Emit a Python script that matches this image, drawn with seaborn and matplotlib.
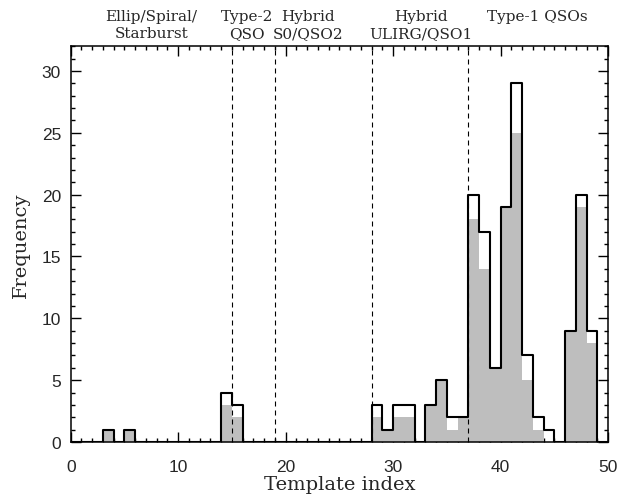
import numpy as np
import pandas as pd
import seaborn as sns
import matplotlib.pyplot as plt
from matplotlib.ticker import MultipleLocator

# template index of each non-empty bin
template = [3, 5, 14, 15, 28, 29, 30, 31, 33, 34, 35, 36, 37, 38, 39, 40, 41, 42, 43, 44, 46, 47, 48]
# all sources (black outline)
total = [1, 1, 4, 3, 3, 1, 3, 3, 3, 5, 2, 2, 20, 17, 6, 19, 29, 7, 2, 1, 9, 20, 9]
# subsample (grey fill)
subset = [1, 1, 3, 2, 2, 1, 2, 2, 3, 5, 1, 2, 18, 14, 6, 19, 25, 5, 1, 0, 9, 19, 8]

boundaries = [15, 19, 28, 37]
group_labels = ["Ellip/Spiral/\nStarburst", "Type-2\nQSO", "Hybrid\nS0/QSO2",
                "Hybrid\nULIRG/QSO1", "Type-1 QSOs\n"]
group_pos = [7.5, 16.4, 22.1, 32.6, 43.4]

df = pd.DataFrame({"template": template, "total": total, "subset": subset})

sns.set_theme(style="ticks")
plt.rcParams["font.family"] = ["Liberation Sans", "DejaVu Sans"]
plt.rcParams["xtick.direction"] = "in"
plt.rcParams["ytick.direction"] = "in"

fig = plt.figure(figsize=(6.43, 5.02), dpi=100)
ax = fig.add_axes([0.110, 0.1175, 0.8356, 0.7885])

sns.histplot(data=df, x="template", weights="subset", binwidth=1, binrange=(0, 50),
             element="bars", color="#bebebe", edgecolor="none", linewidth=0,
             alpha=1, ax=ax)
sns.histplot(data=df, x="template", weights="total", binwidth=1, binrange=(0, 50),
             element="step", fill=False, color="black", linewidth=1.5, ax=ax)

for b in boundaries:
    ax.axvline(b, color="black", lw=0.8, ls=(0, (4.5, 3.6)), zorder=5)

ax.set_xlim(0, 50)
ax.set_ylim(0, 32)
ax.xaxis.set_major_locator(MultipleLocator(10))
ax.xaxis.set_minor_locator(MultipleLocator(1))
ax.yaxis.set_major_locator(MultipleLocator(5))
ax.yaxis.set_minor_locator(MultipleLocator(1))
ax.tick_params(which="both", top=True, right=True, direction="in", color="black", width=1)
ax.tick_params(which="major", length=7, labelsize=12.5)
ax.tick_params(which="minor", length=3)
ax.tick_params(axis="x", which="major", pad=12)
ax.tick_params(axis="y", which="major", pad=7)
for s in ax.spines.values():
    s.set_linewidth(1.1)
    s.set_color("black")

ax.set_xlabel("Template index", family="DejaVu Serif", fontsize=14, labelpad=1)
ax.set_ylabel("Frequency", family="DejaVu Serif", fontsize=14, labelpad=8)

for lab, xp in zip(group_labels, group_pos):
    ax.text(xp, 1.016, lab, transform=ax.get_xaxis_transform(), ha="center",
            va="bottom", family="DejaVu Serif", fontsize=11, linespacing=1.3)

fig.savefig("out.png", dpi=100)
